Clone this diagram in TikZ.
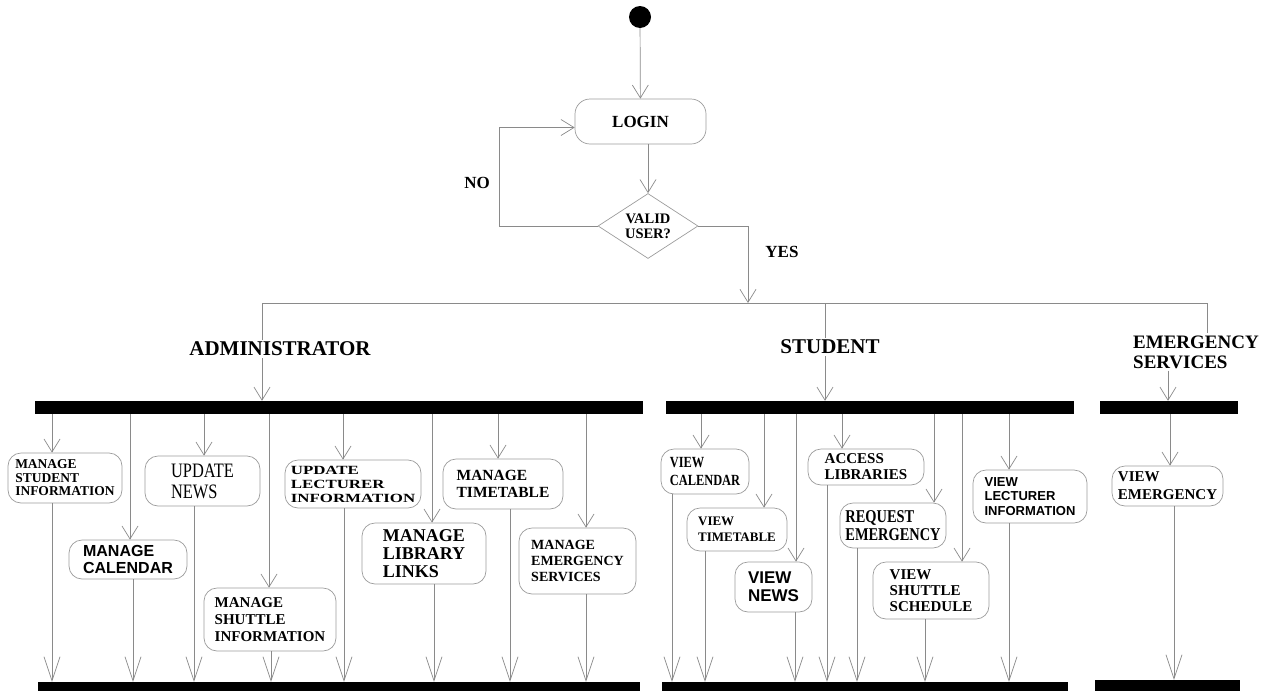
\documentclass[tikz,border=0pt]{standalone}
\usepackage{fontspec}
\setmainfont{Liberation Serif}
\newfontfamily\sansfont{Liberation Sans}
\newfontfamily\narrowfont[FakeStretch=0.8]{Liberation Serif}
\newfontfamily\widefont[FakeStretch=1.35]{Liberation Serif}
\usepackage{tikz}
\usetikzlibrary{arrows.meta,shapes.geometric}
\definecolor{linegray}{HTML}{8A8A8A}
\definecolor{boxgray}{HTML}{9C9C9C}
\newcommand{\fsz}[2]{\fontsize{#1}{#2}\selectfont}

\begin{document}
\begin{tikzpicture}[x=1pt,y=-1pt,
  wire/.style={draw=linegray,line width=0.7pt},
  flow/.style={wire,-{Straight Barb[length=13pt,width=16pt]}},
  joinflow/.style={wire,-{Straight Barb[length=24pt,width=16pt]}},
  act/.style={draw=boxgray,line width=0.7pt,rounded corners=13pt,inner sep=3pt,align=left},
  bar/.style={fill=black,inner sep=0pt},
  lbl/.style={inner sep=2pt,align=left,font=\fsz{21}{22}\bfseries}]
\useasboundingbox (0,0) rectangle (1270,691);
% Login and validation at the top.
\node[fill=black,circle,minimum size=22pt,inner sep=0pt] (start) at (640,17) {};
\node[act,rounded corners=15pt,minimum width=131pt,minimum height=45pt,font=\fsz{17}{18}\bfseries] (login) at (640.5,121.5) {LOGIN};
\node[draw=boxgray,line width=0.7pt,diamond,aspect=1.55,inner sep=1pt,minimum width=100pt,minimum height=65pt,align=center,font=\fsz{14.5}{15}\bfseries] (valid) at (648,226) {VALID\\USER?};
\node[font=\fsz{17}{18}\bfseries] (no) at (477,183) {NO};
\node[font=\fsz{17}{18}\bfseries] (yes) at (782,252) {YES};
\coordinate (split) at (748,303);
\draw[flow] (start) -- (login);
\draw[flow] (login.south -| valid.north) -- (valid.north);
\draw[flow] (valid.west) -- ++(-98,0) |- ([yshift=-6pt]login.west);
\draw[flow] (valid.east) -| (split);
% Three roles hang off the split line.
\node[lbl] (adm) at (280,349) {ADMINISTRATOR};
\node[lbl] (stu) at (830,347) {STUDENT};
\node[lbl,font=\fsz{19}{20}\bfseries] (eml) at (1196,352) {EMERGENCY\\SERVICES};
\draw[wire] (262,0 |- adm.north) -- (262,303) -- (1207,303) -- (1207,0 |- eml.north);
\draw[wire] (825,303) -- (825,0 |- stu.north);
\node[bar,minimum width=608pt,minimum height=13pt] (afork) at (339,407.5) {};
\node[bar,minimum width=408pt,minimum height=13pt] (sfork) at (870,407.5) {};
\node[bar,minimum width=138pt,minimum height=13pt] (efork) at (1169,407.5) {};
\node[bar,minimum width=602pt,minimum height=10pt] (ajoin) at (339,687) {};
\node[bar,minimum width=406pt,minimum height=10pt] (sjoin) at (865,687) {};
\node[bar,minimum width=145pt,minimum height=12pt] (ejoin) at (1167.5,686) {};
\draw[flow] (262,0 |- adm.south) -- (262,0 |- afork.north);
\draw[flow] (825,0 |- stu.south) -- (825,0 |- sfork.north);
\draw[flow] (1168,0 |- eml.south) -- (1168,0 |- efork.north);
% Administrator activities.
\node[act,minimum width=114pt,minimum height=50pt,font=\fsz{13.5}{13.5}\bfseries] (mstud) at (65,478) {MANAGE\\STUDENT\\INFORMATION};
\node[act,minimum width=118pt,minimum height=39pt,font=\fsz{16}{17}\sansfont\bfseries] (mcal) at (128,559.5) {MANAGE\\CALENDAR};
\node[act,minimum width=115pt,minimum height=50pt,font=\fsz{20.5}{21}\narrowfont] (unews) at (202.5,481) {UPDATE\\NEWS};
\node[act,minimum width=132pt,minimum height=63pt,font=\fsz{15}{17}\bfseries] (mshut) at (270,619.5) {MANAGE\\SHUTTLE\\INFORMATION};
\node[act,minimum width=136pt,minimum height=48pt,font=\fsz{12.5}{14}\widefont\bfseries] (ulect) at (353,484) {UPDATE\\LECTURER\\INFORMATION};
\node[act,minimum width=124pt,minimum height=61pt,font=\fsz{18}{18}\bfseries] (mlib) at (424,553.5) {MANAGE\\LIBRARY\\LINKS};
\node[act,minimum width=120pt,minimum height=50pt,font=\fsz{15.5}{17}\bfseries] (mtime) at (503,484) {MANAGE\\TIMETABLE};
\node[act,minimum width=117pt,minimum height=66pt,font=\fsz{14}{16}\bfseries] (memer) at (577.5,561) {MANAGE\\EMERGENCY\\SERVICES};
\draw[flow] (52,0 |- afork.south) -- (52,0 |- mstud.north);
\draw[flow] (130,0 |- afork.south) -- (130,0 |- mcal.north);
\draw[flow] (204,0 |- afork.south) -- (204,0 |- unews.north);
\draw[flow] (269,0 |- afork.south) -- (269,0 |- mshut.north);
\draw[flow] (343,0 |- afork.south) -- (343,0 |- ulect.north);
\draw[flow] (432,0 |- afork.south) -- (432,0 |- mlib.north);
\draw[flow] (498,0 |- afork.south) -- (498,0 |- mtime.north);
\draw[flow] (586,0 |- afork.south) -- (586,0 |- memer.north);
\draw[joinflow] (52,0 |- mstud.south) -- (52,0 |- ajoin.north);
\draw[joinflow] (133,0 |- mcal.south) -- (133,0 |- ajoin.north);
\draw[joinflow] (194,0 |- unews.south) -- (194,0 |- ajoin.north);
\draw[joinflow] (271,0 |- mshut.south) -- (271,0 |- ajoin.north);
\draw[joinflow] (344,0 |- ulect.south) -- (344,0 |- ajoin.north);
\draw[joinflow] (434,0 |- mlib.south) -- (434,0 |- ajoin.north);
\draw[joinflow] (510,0 |- mtime.south) -- (510,0 |- ajoin.north);
\draw[joinflow] (586,0 |- memer.south) -- (586,0 |- ajoin.north);
% Student activities.
\node[act,minimum width=88pt,minimum height=45pt,font=\fsz{15.5}{18}\narrowfont\bfseries] (vcal) at (705,471.5) {VIEW\\CALENDAR};
\node[act,minimum width=100pt,minimum height=43pt,font=\fsz{13}{15.5}\bfseries] (vtime) at (737,529.5) {VIEW\\TIMETABLE};
\node[act,minimum width=77pt,minimum height=50pt,font=\fsz{17}{18}\sansfont\bfseries] (vnews) at (773.5,587) {VIEW\\NEWS};
\node[act,minimum width=116pt,minimum height=36pt,inner sep=1pt,font=\fsz{15}{16}\bfseries] (acclib) at (866,467) {ACCESS\\LIBRARIES};
\node[act,minimum width=106pt,minimum height=45pt,font=\fsz{18}{18}\narrowfont\bfseries] (reqem) at (893,525.5) {REQUEST\\EMERGENCY};
\node[act,minimum width=116pt,minimum height=57pt,font=\fsz{15}{16}\bfseries] (vshut) at (931,590.5) {VIEW\\SHUTTLE\\SCHEDULE};
\node[act,minimum width=114pt,minimum height=53pt,font=\fsz{13}{14.7}\sansfont\bfseries] (vlect) at (1030,496.5) {VIEW\\LECTURER\\INFORMATION};
\draw[flow] (701,0 |- sfork.south) -- (701,0 |- vcal.north);
\draw[flow] (764,0 |- sfork.south) -- (764,0 |- vtime.north);
\draw[flow] (796,0 |- sfork.south) -- (796,0 |- vnews.north);
\draw[flow] (842,0 |- sfork.south) -- (842,0 |- acclib.north);
\draw[flow] (934,0 |- sfork.south) -- (934,0 |- reqem.north);
\draw[flow] (962,0 |- sfork.south) -- (962,0 |- vshut.north);
\draw[flow] (1009,0 |- sfork.south) -- (1009,0 |- vlect.north);
\draw[joinflow] (672,0 |- vcal.south) -- (672,0 |- sjoin.north);
\draw[joinflow] (705,0 |- vtime.south) -- (705,0 |- sjoin.north);
\draw[joinflow] (795,0 |- vnews.south) -- (795,0 |- sjoin.north);
\draw[joinflow] (827,0 |- acclib.south) -- (827,0 |- sjoin.north);
\draw[joinflow] (857,0 |- reqem.south) -- (857,0 |- sjoin.north);
\draw[joinflow] (925,0 |- vshut.south) -- (925,0 |- sjoin.north);
\draw[joinflow] (1009,0 |- vlect.south) -- (1009,0 |- sjoin.north);
% Emergency services activity.
\node[act,minimum width=111pt,minimum height=40pt,font=\fsz{15}{18}\bfseries] (vemer) at (1167.5,486) {VIEW\\EMERGENCY};
\draw[flow] (1170,0 |- efork.south) -- (1170,0 |- vemer.north);
\draw[joinflow] (1174,0 |- vemer.south) -- (1174,0 |- ejoin.north);
\end{tikzpicture}
\end{document}
